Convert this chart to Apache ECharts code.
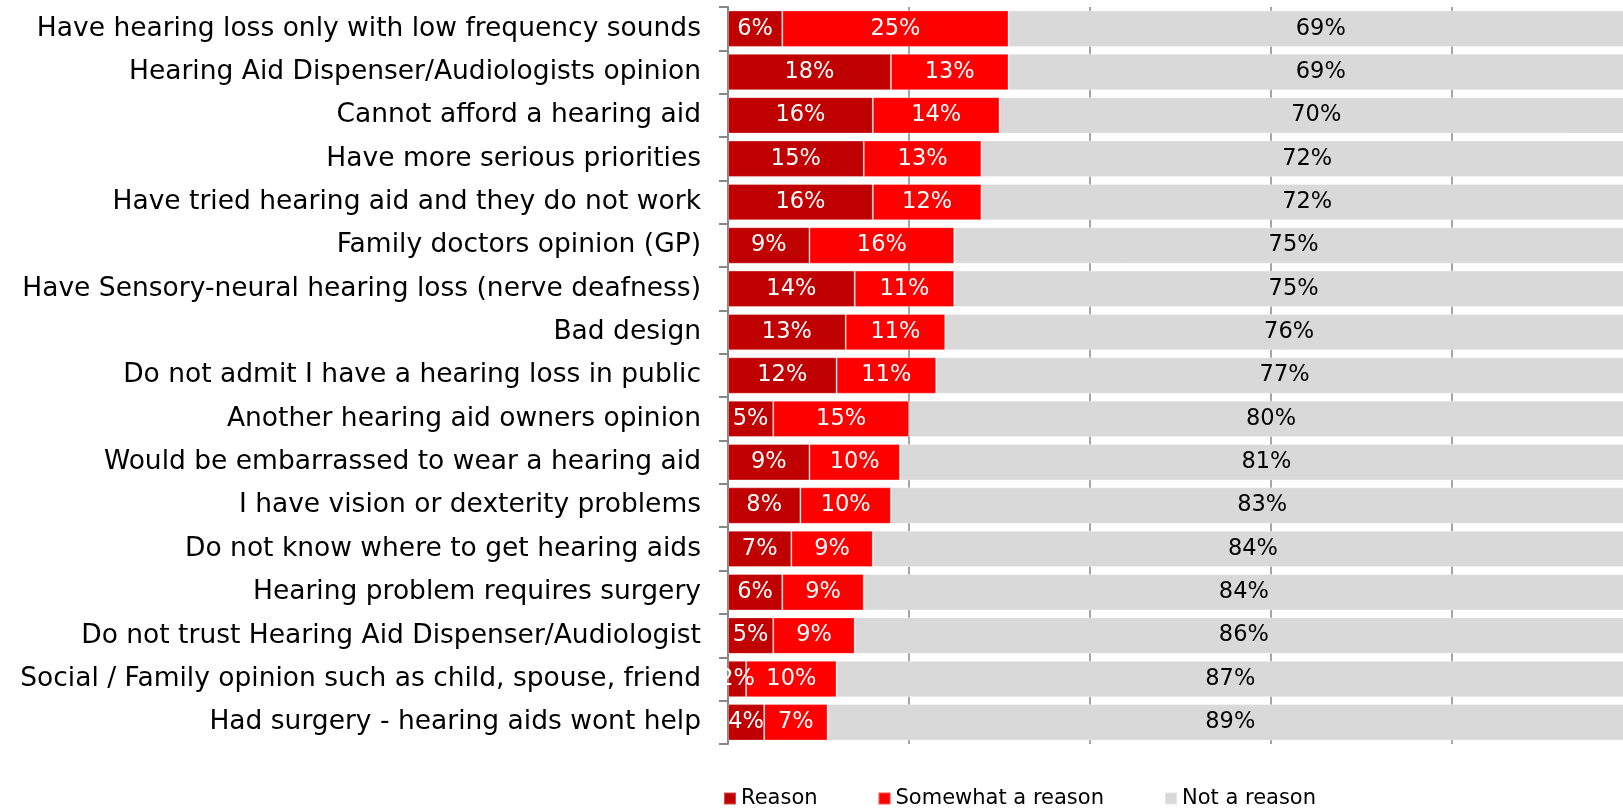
<!DOCTYPE html>
<html>
<head>
<meta charset="utf-8">
<title>Reasons for not having a hearing aid</title>
<script src="https://cdn.jsdelivr.net/npm/echarts@6/dist/echarts.min.js"></script>
<style>
	html, body { margin: 0; padding: 0; background: #fff; }
	#main { width: 1623px; height: 809px; }
</style>
</head>
<body>
<div id="main"></div>
<script>
	/* 类目 */
	var categories = [
		'Have hearing loss only with low frequency sounds',
		'Hearing Aid Dispenser/Audiologists opinion',
		'Cannot afford a hearing aid',
		'Have more serious priorities',
		'Have tried hearing aid and they do not work',
		'Family doctors opinion (GP)',
		'Have Sensory-neural hearing loss (nerve deafness)',
		'Bad design',
		'Do not admit I have a hearing loss in public',
		'Another hearing aid owners opinion',
		'Would be embarrassed to wear a hearing aid',
		'I have vision or dexterity problems',
		'Do not know where to get hearing aids',
		'Hearing problem requires surgery',
		'Do not trust Hearing Aid Dispenser/Audiologist',
		'Social / Family opinion such as child, spouse, friend',
		'Had surgery - hearing aids wont help'
	];
	/* 数据 (%) */
	var reason = [6, 18, 16, 15, 16, 9, 14, 13, 12, 5, 9, 8, 7, 6, 5, 2, 4];
	var somewhat = [25, 13, 14, 13, 12, 16, 11, 11, 11, 15, 10, 10, 9, 9, 9, 10, 7];
	var notReason = [69, 69, 70, 72, 72, 75, 75, 76, 77, 80, 81, 83, 84, 84, 86, 87, 89];
	var seriesNames = ['Reason', 'Somewhat a reason', 'Not a reason'];
	var xTicks = [0, 20, 40, 60, 80, 100];

	var font = 'DejaVu Sans, Verdana, sans-serif';
	var axisGray = '#878787';

	function makeSeries(name, data, color, labelColor) {
		return {
			name: name,
			type: 'bar',
			stack: 'total',
			barCategoryGap: '16%',
			data: data,
			itemStyle: {
				color: color,
				borderColor: 'rgba(255,255,255,0.3)',
				borderWidth: 1
			},
			label: {
				show: true,
				position: 'inside',
				color: labelColor,
				fontFamily: font,
				fontSize: 22.5,
				formatter: function (p) { return Math.round(p.value) + '%'; }
			},
			emphasis: { disabled: true }
		};
	}

	var myChart = echarts.init(document.getElementById('main'), null, { renderer: 'canvas' });
	var option = {
		animation: false,
		grid: {
			left: 728,
			top: 7,
			width: 905,
			height: 737,
			outerBoundsMode: 'none',
			containLabel: false
		},
		legend: {
			data: seriesNames,
			left: 718,
			top: 783,
			icon: 'rect',
			itemWidth: 12,
			itemHeight: 12,
			itemGap: 60,
			textStyle: { color: '#000', fontFamily: font, fontSize: 21 }
		},
		xAxis: {
			type: 'value',
			min: xTicks[0],
			max: xTicks[xTicks.length - 1],
			interval: xTicks[1] - xTicks[0],
			axisLabel: { show: false },
			axisLine: { show: false },
			axisTick: { show: false },
			splitLine: { show: true, lineStyle: { color: axisGray, width: 1.5 } }
		},
		yAxis: {
			type: 'category',
			inverse: true,
			data: categories,
			axisLine: { show: true, lineStyle: { color: axisGray, width: 2 } },
			axisTick: { show: true, length: 9, lineStyle: { color: axisGray, width: 2 } },
			axisLabel: { color: '#000', fontFamily: font, fontSize: 26.5, margin: 27 }
		},
		series: [
			makeSeries(seriesNames[0], reason, '#C00000', '#fff'),
			makeSeries(seriesNames[1], somewhat, '#FF0000', '#fff'),
			makeSeries(seriesNames[2], notReason, '#D9D9D9', '#000')
		]
	};
	myChart.setOption(option);
</script>
</body>
</html>
